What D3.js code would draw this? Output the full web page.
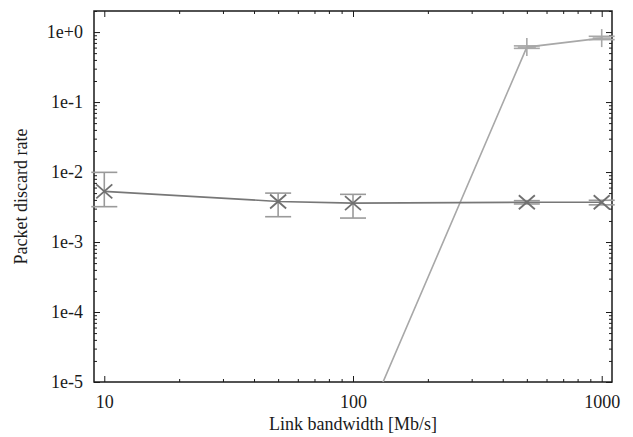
<!DOCTYPE html>
<html>
<head>
<meta charset="utf-8">
<script src="https://cdn.jsdelivr.net/npm/d3@7"></script>
<style>
  body { margin: 0; background: #fff; }
  text { font-family: "Liberation Serif", "Times New Roman", serif; fill: #1a1a1a; }
</style>
</head>
<body>
<div id="chart"></div>
<script>
// data
var bandwidth = [10, 50, 100, 500, 1000];
var discardA = [5.3e-3, 3.8e-3, 3.6e-3, 3.7e-3, 3.7e-3];
var discardALo = [3.2e-3, 2.3e-3, 2.2e-3, 3.5e-3, 3.4e-3];
var discardAHi = [9.9e-3, 5.0e-3, 4.8e-3, 3.9e-3, 3.95e-3];

var bandwidthB = [100, 500, 1000];
var discardB = [1e-6, 0.61, 0.82];
var discardBLo = [1e-6, 0.585, 0.78];
var discardBHi = [1e-6, 0.635, 0.87];

var xTicks = [10, 100, 1000];
var yTicks = [1, 1e-1, 1e-2, 1e-3, 1e-4, 1e-5];
var yTickLabels = ["1e+0", "1e-1", "1e-2", "1e-3", "1e-4", "1e-5"];

// dimensions
var margin = {top: 11, right: 21, bottom: 55, left: 94},
    width = 633 - margin.left - margin.right,
    height = 437 - margin.top - margin.bottom;

var x = d3.scaleLog().domain([10 / 1.1, 1100]).range([0, width]);
var y = d3.scaleLog().domain([1e-5, 2]).range([height, 0]);

var svg = d3.select("#chart")
            .append("svg")
            .attr("width", 633)
            .attr("height", 437)
            .append("g")
            .attr("transform", "translate(" + margin.left + "," + margin.top + ")");

svg.append("clipPath").attr("id", "clip")
   .append("rect").attr("width", width).attr("height", height);

// minor tick values
var xMinor = [], yMinor = [];
[1, 10, 100, 1000].forEach(function(d) {
  for (var k = 2; k < 10; k++) {
    var v = d * k;
    if (v >= x.domain()[0] && v <= x.domain()[1]) xMinor.push(v);
  }
});
[1e-5, 1e-4, 1e-3, 1e-2, 1e-1, 1].forEach(function(d) {
  for (var k = 2; k < 10; k++) {
    var v = d * k;
    if (v >= y.domain()[0] && v <= y.domain()[1] * 1.0001) yMinor.push(v);
  }
});

function styleAxis(g) {
  g.select(".domain").remove();
  g.selectAll(".tick line").attr("stroke", "#1a1a1a").attr("stroke-width", 1);
  g.selectAll(".tick text").style("font-size", "18px").attr("fill", "#1a1a1a");
}

// bottom axis
svg.append("g")
   .attr("transform", "translate(0," + height + ")")
   .call(d3.axisBottom(x).tickValues(xTicks).tickSize(-6).tickPadding(13).tickFormat(d3.format("d")))
   .call(styleAxis);
svg.append("g")
   .attr("transform", "translate(0," + height + ")")
   .call(d3.axisBottom(x).tickValues(xMinor).tickSize(-3).tickFormat(""))
   .call(styleAxis);
// top axis
svg.append("g")
   .call(d3.axisTop(x).tickValues(xTicks).tickSize(-6).tickFormat(""))
   .call(styleAxis);
svg.append("g")
   .call(d3.axisTop(x).tickValues(xMinor).tickSize(-3).tickFormat(""))
   .call(styleAxis);
// left axis
svg.append("g")
   .call(d3.axisLeft(y).tickValues(yTicks).tickSize(-6).tickPadding(11)
         .tickFormat(function(d, i) { return yTickLabels[i]; }))
   .call(styleAxis);
svg.append("g")
   .call(d3.axisLeft(y).tickValues(yMinor).tickSize(-3).tickFormat(""))
   .call(styleAxis);
// right axis
svg.append("g")
   .attr("transform", "translate(" + width + ",0)")
   .call(d3.axisRight(y).tickValues(yTicks).tickSize(-6).tickFormat(""))
   .call(styleAxis);
svg.append("g")
   .attr("transform", "translate(" + width + ",0)")
   .call(d3.axisRight(y).tickValues(yMinor).tickSize(-3).tickFormat(""))
   .call(styleAxis);

// frame
svg.append("rect")
   .attr("width", width).attr("height", height)
   .attr("fill", "none").attr("stroke", "#1a1a1a").attr("stroke-width", 1.5);

// axis titles
svg.append("text")
   .attr("x", width / 2).attr("y", height + 48)
   .attr("text-anchor", "middle")
   .style("font-size", "18px")
   .text("Link bandwidth [Mb/s]");
svg.append("text")
   .attr("transform", "translate(" + (-67) + "," + (height / 2) + ") rotate(-90)")
   .attr("text-anchor", "middle")
   .style("font-size", "18px")
   .text("Packet discard rate");

var line = d3.line()
             .x(function(d) { return x(d[0]); })
             .y(function(d) { return y(d[1]); });

// series B (light grey, plus markers)
svg.append("path")
   .datum(bandwidthB.map(function(b, i) { return [b, discardB[i]]; }))
   .attr("clip-path", "url(#clip)")
   .attr("fill", "none").attr("stroke", "#a8a8a8").attr("stroke-width", 1.6)
   .attr("d", line);

var gB = svg.append("g").attr("stroke", "#a8a8a8").attr("stroke-width", 1.6);
bandwidthB.forEach(function(b, i) {
  if (discardB[i] < y.domain()[0]) return;
  var cx = x(b), cy = y(discardB[i]);
  var lo = y(discardBLo[i]), hi = y(discardBHi[i]);
  gB.append("line").attr("x1", cx).attr("x2", cx).attr("y1", lo).attr("y2", hi);
  gB.append("line").attr("x1", cx - 13).attr("x2", cx + 13).attr("y1", lo).attr("y2", lo);
  gB.append("line").attr("x1", cx - 13).attr("x2", cx + 13).attr("y1", hi).attr("y2", hi);
  gB.append("line").attr("x1", cx - 9).attr("x2", cx + 9).attr("y1", cy).attr("y2", cy);
  gB.append("line").attr("x1", cx).attr("x2", cx).attr("y1", cy - 9).attr("y2", cy + 9);
});

// series A (dark grey, cross markers)
svg.append("path")
   .datum(bandwidth.map(function(b, i) { return [b, discardA[i]]; }))
   .attr("clip-path", "url(#clip)")
   .attr("fill", "none").attr("stroke", "#777").attr("stroke-width", 1.6)
   .attr("d", line);

var gA = svg.append("g");
bandwidth.forEach(function(b, i) {
  var cx = x(b), cy = y(discardA[i]);
  var lo = y(discardALo[i]), hi = y(discardAHi[i]);
  var eb = gA.append("g").attr("stroke", "#9a9a9a").attr("stroke-width", 1.6);
  eb.append("line").attr("x1", cx).attr("x2", cx).attr("y1", lo).attr("y2", hi);
  eb.append("line").attr("x1", cx - 13).attr("x2", cx + 13).attr("y1", lo).attr("y2", lo);
  eb.append("line").attr("x1", cx - 13).attr("x2", cx + 13).attr("y1", hi).attr("y2", hi);
  var mk = gA.append("g").attr("stroke", "#707070").attr("stroke-width", 1.8);
  mk.append("line").attr("x1", cx - 8).attr("x2", cx + 8).attr("y1", cy - 7).attr("y2", cy + 7);
  mk.append("line").attr("x1", cx - 8).attr("x2", cx + 8).attr("y1", cy + 7).attr("y2", cy - 7);
});
</script>
</body>
</html>
